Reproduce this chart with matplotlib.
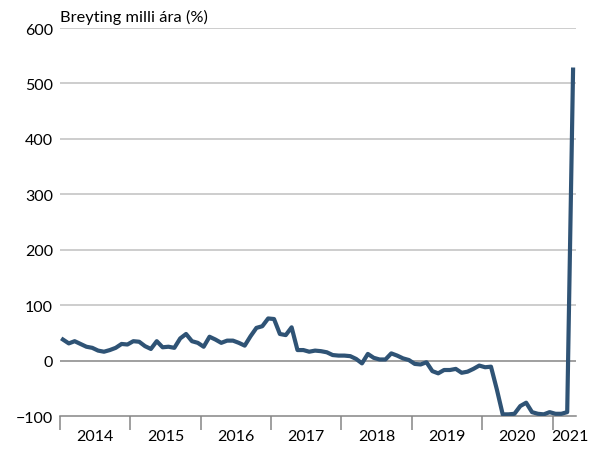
import numpy as np
import matplotlib.pyplot as plt

# monthly year-on-year change, Jan 2014 - Apr 2021
years = ["2014", "2015", "2016", "2017", "2018", "2019", "2020", "2021"]
v2014 = [38, 31, 35, 30, 25, 23, 18, 16, 19, 23, 30, 29]
v2015 = [35, 34, 26, 21, 35, 24, 25, 23, 40, 48, 35, 32]
v2016 = [25, 43, 38, 32, 36, 36, 32, 27, 44, 59, 62, 76]
v2017 = [75, 48, 46, 60, 19, 19, 16, 18, 17, 15, 10, 9]
v2018 = [9, 8, 3, -5, 12, 5, 2, 2, 13, 9, 4, 1]
v2019 = [-6, -7, -3, -19, -23, -17, -17, -15, -22, -20, -15, -9]
v2020 = [-12, -11, -52, -97, -97, -96, -82, -76, -93, -96, -97, -93]
v2021 = [-96, -96, -93, 525]
title = "Breyting milli ára (%)"
yticks = [-100, 0, 100, 200, 300, 400, 500, 600]

series = [v2014, v2015, v2016, v2017, v2018, v2019, v2020, v2021]
values = np.concatenate(series)
x = np.arange(len(values))

plt.rcParams['font.family'] = ['Lato', 'DejaVu Sans']

fig = plt.figure(figsize=(6, 4.52), dpi=100)
ax = fig.add_axes([0.1, 0.0774, 0.86, 0.8584])

# grid lines
for t in yticks[1:]:
    ax.axhline(t, color="#c0c0c0" if t != 0 else "#858585", lw=1.1, zorder=1)

ax.plot(x, values, color="#2f5375", lw=3.0, solid_joinstyle="round", zorder=3)

ax.set_xlim(-0.5, len(values) - 0.5)
ax.set_ylim(-100, 600)
ax.set_yticks(yticks)
ax.tick_params(axis="y", length=0, labelsize=11.5, pad=5)

# year boundaries as ticks, labels in the middle of each year
counts = [len(s) for s in series]
bounds = np.cumsum([0] + counts) - 0.5
ax.set_xticks(bounds[:-1])
ax.set_xticklabels([])
ax.tick_params(axis="x", which="major", length=10, width=1.1, color="#858585")
mids = (bounds[:-1] + bounds[1:]) / 2
mids[-1] += 1
ax.set_xticks(mids, minor=True)
ax.set_xticklabels(years, minor=True)
ax.tick_params(axis="x", which="minor", length=0, labelsize=11.5, pad=9)

for s in ["left", "right", "top"]:
    ax.spines[s].set_visible(False)
ax.spines["bottom"].set_color("#858585")
ax.spines["bottom"].set_linewidth(1.1)

fig.text(0.1, 0.952, title, fontsize=11.8, ha="left", va="baseline")

fig.savefig("out.png", dpi=100)
